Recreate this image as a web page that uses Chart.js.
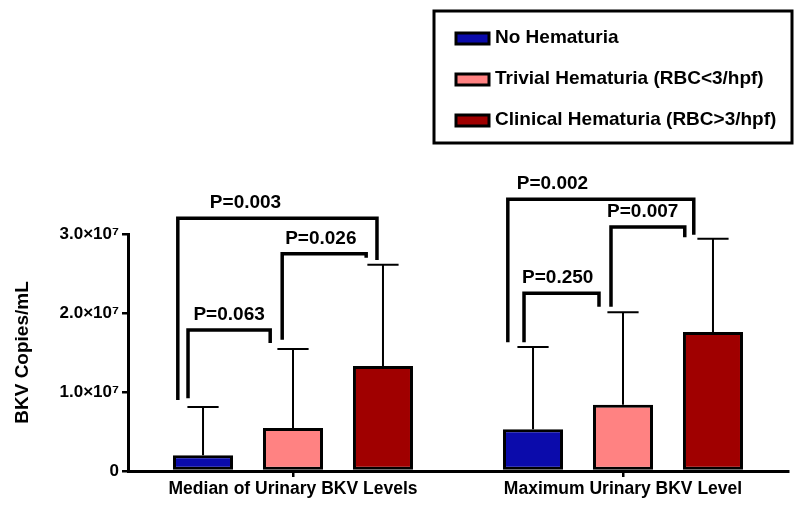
<!DOCTYPE html>
<html>
<head>
<meta charset="utf-8">
<script src="https://cdn.jsdelivr.net/npm/chart.js@4/dist/chart.umd.min.js"></script>
<style>
  body { margin: 0; background: #fff; }
  #wrap { width: 800px; height: 506px; position: relative; }
</style>
</head>
<body>
<div id="wrap"><canvas id="bkvChart"></canvas></div>
<script>
// values (copies/mL)
const categories = ['Median of Urinary BKV Levels', 'Maximum Urinary BKV Level'];
const seriesLabels = ['No Hematuria', 'Trivial Hematuria (RBC<3/hpf)', 'Clinical Hematuria (RBC>3/hpf)'];
const seriesColors = ['#0b0bab', '#ff8282', '#a00000'];
const noHematuria = [2.0e6, 5.3e6];
const trivialHematuria = [5.45e6, 8.4e6];
const clinicalHematuria = [1.33e7, 1.76e7];
// upper error (SD) for each bar
const noHematuriaErr = [6.1e6, 1.04e7];
const trivialHematuriaErr = [1.0e7, 1.17e7];
const clinicalHematuriaErr = [1.28e7, 1.18e7];
const yTicks = [0, 1e7, 2e7, 3e7];

// significance brackets: category, dataset from/to, bracket top and leg ends in data units
const brackets = [
  { cat: 0, from: 0, to: 1, top: 1.785e7, fromEnd: 0.92e7, toEnd: 1.62e7, label: 'P=0.063' },
  { cat: 0, from: 1, to: 2, top: 2.75e7, fromEnd: 1.66e7, toEnd: 2.70e7, label: 'P=0.026' },
  { cat: 0, from: 0, to: 2, top: 3.20e7, fromEnd: 0.90e7, toEnd: 2.67e7, label: 'P=0.003' },
  { cat: 1, from: 0, to: 1, top: 2.25e7, fromEnd: 1.63e7, toEnd: 2.08e7, label: 'P=0.250' },
  { cat: 1, from: 1, to: 2, top: 3.09e7, fromEnd: 2.08e7, toEnd: 2.96e7, label: 'P=0.007' },
  { cat: 1, from: 0, to: 2, top: 3.44e7, fromEnd: 1.63e7, toEnd: 2.99e7, label: 'P=0.002' }
];
// where legs sit relative to bar center (in bar widths) and where the label sits along the bracket
const bracketStyle = [
  { fromOff: -0.25, toOff: -0.38, textPos: 0.5 },
  { fromOff: -0.18, toOff: -0.28, textPos: 0.46 },
  { fromOff: -0.42, toOff: -0.10, textPos: 0.34 },
  { fromOff: -0.15, toOff: -0.40, textPos: 0.45 },
  { fromOff: -0.20, toOff: -0.47, textPos: 0.43 },
  { fromOff: -0.42, toOff: -0.32, textPos: 0.24 }
];

const FONT = '"Liberation Sans", Arial, sans-serif';
const errors = [noHematuriaErr, trivialHematuriaErr, clinicalHematuriaErr];

function supTick(v) {
  if (v === 0) return '0';
  const exp = Math.floor(Math.log10(v));
  const mant = (v / Math.pow(10, exp)).toFixed(1);
  const sup = { '7': '\u2077', '6': '\u2076', '8': '\u2078' };
  return `${mant}\u00d710${sup[String(exp)]}`;
}

const errorBars = {
  id: 'errorBars',
  beforeDatasetsDraw(chart) {
    const ctx = chart.ctx;
    const y = chart.scales.y;
    ctx.save();
    ctx.strokeStyle = '#000';
    ctx.lineWidth = 2;
    chart.data.datasets.forEach((ds, i) => {
      chart.getDatasetMeta(i).data.forEach((bar, j) => {
        const top = y.getPixelForValue(ds.data[j] + errors[i][j]);
        const half = bar.width * 0.26;
        ctx.beginPath();
        ctx.moveTo(bar.x, bar.y);
        ctx.lineTo(bar.x, top);
        ctx.moveTo(bar.x - half, top);
        ctx.lineTo(bar.x + half, top);
        ctx.stroke();
      });
    });
    ctx.restore();
  }
};

const sigBrackets = {
  id: 'sigBrackets',
  afterDatasetsDraw(chart) {
    const ctx = chart.ctx;
    const y = chart.scales.y;
    ctx.save();
    ctx.strokeStyle = '#000';
    ctx.fillStyle = '#000';
    ctx.lineWidth = 3.5;
    ctx.lineJoin = 'miter';
    ctx.font = `bold 19px ${FONT}`;
    ctx.textAlign = 'center';
    ctx.textBaseline = 'middle';
    brackets.forEach((b, k) => {
      const st = bracketStyle[k];
      const barA = chart.getDatasetMeta(b.from).data[b.cat];
      const barB = chart.getDatasetMeta(b.to).data[b.cat];
      const xa = barA.x + st.fromOff * barA.width;
      const xb = barB.x + st.toOff * barB.width;
      const yt = y.getPixelForValue(b.top);
      ctx.beginPath();
      ctx.moveTo(xa, y.getPixelForValue(b.fromEnd));
      ctx.lineTo(xa, yt);
      ctx.lineTo(xb, yt);
      ctx.lineTo(xb, y.getPixelForValue(b.toEnd));
      ctx.stroke();
      ctx.fillText(b.label, xa + st.textPos * (xb - xa), yt - 15);
    });
    ctx.restore();
  }
};

const boxLegend = {
  id: 'boxLegend',
  afterDraw(chart) {
    const ctx = chart.ctx;
    ctx.save();
    ctx.lineWidth = 3;
    ctx.strokeStyle = '#000';
    ctx.strokeRect(434, 11, 358, 132);
    ctx.font = `bold 19px ${FONT}`;
    ctx.textBaseline = 'middle';
    ctx.textAlign = 'left';
    chart.data.datasets.forEach((ds, i) => {
      const cy = 38 + i * 41;
      ctx.fillStyle = ds.backgroundColor;
      ctx.fillRect(456, cy - 5, 33, 11);
      ctx.lineWidth = 3;
      ctx.strokeRect(456, cy - 5, 33, 11);
      ctx.fillStyle = '#000';
      ctx.fillText(ds.label, 495, cy);
    });
    ctx.restore();
  }
};

const datasets = [noHematuria, trivialHematuria, clinicalHematuria].map((vals, i) => ({
  label: seriesLabels[i],
  data: vals,
  backgroundColor: seriesColors[i],
  borderColor: '#000',
  borderWidth: 3,
  borderSkipped: false,
  categoryPercentage: 0.818,
  barPercentage: 0.667
}));

new Chart(document.getElementById('bkvChart'), {
  type: 'bar',
  data: { labels: categories, datasets },
  plugins: [errorBars, sigBrackets, boxLegend],
  options: {
    responsive: true,
    maintainAspectRatio: false,
    animation: false,
    devicePixelRatio: 1,
    layout: { padding: { top: 234, right: 12, left: 0, bottom: 0 } },
    plugins: { legend: { display: false }, tooltip: { enabled: false } },
    scales: {
      x: {
        afterFit: s => { s.height = 35; },
        grid: { offset: false, drawOnChartArea: false, tickLength: 6, color: '#000', lineWidth: 2.5 },
        border: { color: '#000', width: 3 },
        ticks: { color: '#000', font: { family: FONT, size: 17.5, weight: 'bold' }, padding: 2 }
      },
      y: {
        min: 0,
        max: 3e7,
        afterFit: s => { s.width = 128; },
        afterBuildTicks: s => { s.ticks = yTicks.map(v => ({ value: v })); },
        grid: { drawOnChartArea: false, tickLength: 6, color: '#000', lineWidth: 2.5 },
        border: { color: '#000', width: 3 },
        ticks: {
          color: '#000',
          font: { family: FONT, size: 17, weight: 'bold' },
          padding: 3,
          callback: v => supTick(v)
        },
        title: {
          display: true,
          text: 'BKV Copies/mL',
          color: '#000',
          font: { family: FONT, size: 19, weight: 'bold' },
          padding: { top: 11, bottom: 0 }
        }
      }
    }
  }
});
</script>
</body>
</html>
